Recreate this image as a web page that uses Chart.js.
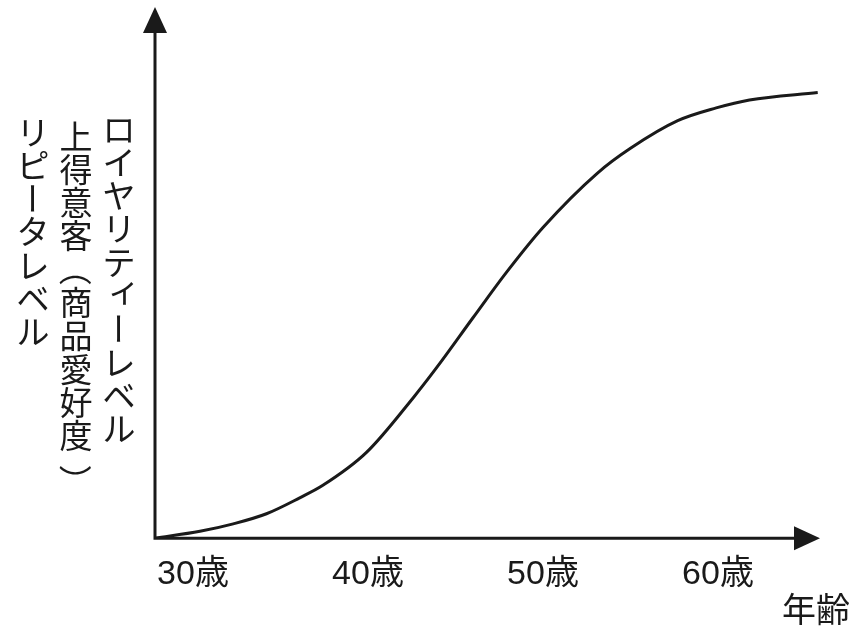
<!DOCTYPE html>
<html>
<head>
<meta charset="utf-8">
<script src="https://cdn.jsdelivr.net/npm/chart.js@4/dist/chart.umd.min.js"></script>
<style>
  html, body { margin: 0; padding: 0; background: #fff; }
  #wrap { width: 863px; height: 626px; }
</style>
</head>
<body>
<div id="wrap"><canvas id="loyalty_chart"></canvas></div>
<script>
// ages (x) and loyalty level (y, 0-100)
const ages = [27.83, 30.4, 32.3, 34.2, 36.1, 37.4, 39.9, 42.6, 43.9, 46.0, 47.9, 50.0, 53.1, 55.0, 57.7, 59.9, 61.8, 65.7];
const levels = [0, 1.3, 2.7, 4.6, 7.6, 9.9, 16.1, 26.5, 32.0, 41.5, 50.0, 58.5, 68.7, 73.4, 78.6, 81.0, 82.5, 83.9];
const tickAges = [30, 40, 50, 60];
const tickSuffix = "歳";
const xTitle = "年齢";
const yTitles = ["ロイヤリティーレベル", "上得意客（商品愛好度）", "リピータレベル"];

const ink = "#1a1a1a";
const jpFont = "'Noto Sans CJK JP', 'Noto Sans', sans-serif";

const points = ages.map((a, i) => ({ x: a, y: levels[i] }));

// axes with arrow heads + the titles
const arrowAxes = {
  id: "arrowAxes",
  afterDraw(chart) {
    const { ctx, chartArea } = chart;
    const { left, right, top, bottom } = chartArea;
    const head = 26, half = 12;
    ctx.save();
    ctx.strokeStyle = ink;
    ctx.fillStyle = ink;
    ctx.lineWidth = 3;
    ctx.beginPath();
    ctx.moveTo(left, top + head - 2);
    ctx.lineTo(left, bottom);
    ctx.lineTo(right - head + 2, bottom);
    ctx.stroke();
    // up arrow
    ctx.beginPath();
    ctx.moveTo(left, top);
    ctx.lineTo(left - half, top + head);
    ctx.lineTo(left + half, top + head);
    ctx.closePath();
    ctx.fill();
    // right arrow
    ctx.beginPath();
    ctx.moveTo(right, bottom);
    ctx.lineTo(right - head, bottom - half);
    ctx.lineTo(right - head, bottom + half);
    ctx.closePath();
    ctx.fill();

    // x title
    ctx.font = "34px " + jpFont;
    ctx.textAlign = "center";
    ctx.textBaseline = "middle";
    ctx.fillText(xTitle, 816, 609);

    // vertical y titles, one column each
    const colX = [119, 76, 33];
    const colY = [129, 136, 132];
    const pitch = 33.3;
    ctx.font = "33px " + jpFont;
    yTitles.forEach((txt, c) => {
      Array.from(txt).forEach((ch, i) => {
        const cx = colX[c];
        const cy = colY[c] + i * pitch;
        ctx.save();
        ctx.translate(cx, cy);
        if (ch === "ー" || ch === "（" || ch === "）") {
          if (ch === "）") ctx.translate(0, 12);
          ctx.rotate(Math.PI / 2);
        } else if (ch === "ィ") {
          ctx.translate(5, -6);
        }
        ctx.fillText(ch, 0, 0);
        ctx.restore();
      });
    });
    ctx.restore();
  },
};

new Chart(document.getElementById("loyalty_chart"), {
  type: "line",
  data: {
    datasets: [
      {
        data: points,
        borderColor: ink,
        borderWidth: 3,
        pointRadius: 0,
        fill: false,
        cubicInterpolationMode: "monotone",
      },
    ],
  },
  options: {
    responsive: true,
    maintainAspectRatio: false,
    animation: false,
    layout: { padding: { left: 155, right: 43, top: 7, bottom: 15 } },
    plugins: { legend: { display: false }, tooltip: { enabled: false } },
    scales: {
      x: {
        type: "linear",
        min: 27.83,
        max: 65.83,
        grid: { display: false, drawTicks: false },
        border: { display: false },
        afterBuildTicks: (axis) => {
          axis.ticks = tickAges.map((v) => ({ value: v }));
        },
        ticks: {
          padding: 16,
          color: ink,
          maxRotation: 0,
          autoSkip: false,
          font: { size: 34, family: "'Liberation Sans', 'Noto Sans CJK JP', sans-serif" },
          callback: (v) => v + tickSuffix,
        },
      },
      y: {
        display: false,
        min: 0,
        max: 100,
      },
    },
  },
  plugins: [arrowAxes],
});
</script>
</body>
</html>
